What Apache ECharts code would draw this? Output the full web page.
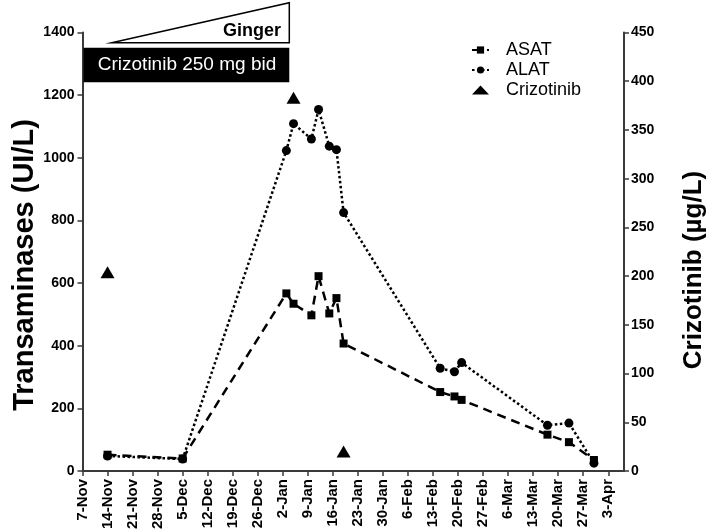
<!DOCTYPE html>
<html>
<head>
<meta charset="utf-8">
<script src="https://cdn.jsdelivr.net/npm/echarts@6/dist/echarts.min.js"></script>
<style>
html,body{margin:0;padding:0;background:#fff;}
#chart{width:709px;height:532px;}
</style>
</head>
<body>
<div id="chart"></div>
<script>
// ---- data ----
var startDate = '2012-11-07';
var tickLabels = ['7-Nov','14-Nov','21-Nov','28-Nov','5-Dec','12-Dec','19-Dec','26-Dec','2-Jan','9-Jan','16-Jan','23-Jan','30-Jan','6-Feb','13-Feb','20-Feb','27-Feb','6-Mar','13-Mar','20-Mar','27-Mar','3-Apr'];
var labDates = ['2012-11-14','2012-12-05','2013-01-03','2013-01-05','2013-01-10','2013-01-12','2013-01-15','2013-01-17','2013-01-19','2013-02-15','2013-02-19','2013-02-21','2013-03-17','2013-03-23','2013-03-30'];
var asatValues = [52, 40, 567, 534, 497, 622, 503, 552, 407, 252, 238, 227, 116, 92, 35];
var alatValues = [48, 38, 1023, 1109, 1060, 1154, 1037, 1026, 825, 328, 317, 346, 146, 153, 25];
var crizoDates = ['2012-11-14','2013-01-05','2013-01-19'];
var crizoValues = [204, 383, 20];

function dayOffset(s) {
  var p = s.split('-'), q = startDate.split('-');
  return (Date.UTC(+p[0], +p[1]-1, +p[2]) - Date.UTC(+q[0], +q[1]-1, +q[2])) / 86400000;
}
function pairs(ds, vs) { return ds.map(function (d, i) { return [dayOffset(d), vs[i]]; }); }

var FONT = "'Liberation Sans', Arial, sans-serif";
var axisColor = '#3a3a3a';
var tickVals = tickLabels.map(function (_, i) { return i * 7; });

var chart = echarts.init(document.getElementById('chart'), null, {renderer: 'canvas'});
chart.setOption({
  animation: false,
  backgroundColor: '#fff',
  textStyle: {fontFamily: FONT},
  grid: {left: 82.5, right: 85, top: 32.5, bottom: 58.7, containLabel: false},
  legend: {
    orient: 'vertical',
    left: 466, top: 36,
    itemWidth: 17, itemHeight: 9, itemGap: 2,
    textStyle: {fontFamily: FONT, fontSize: 18, color: '#000', padding: [0, 0, 0, 12], lineHeight: 18},
    data: ['ASAT', 'ALAT', 'Crizotinib']
  },
  xAxis: {
    type: 'value', min: 0, max: 151.4, interval: 7,
    splitLine: {show: false},
    axisLine: {lineStyle: {color: axisColor, width: 2}},
    axisTick: {show: true, length: 5, lineStyle: {color: axisColor, width: 1.5}, customValues: tickVals},
    axisLabel: {
      rotate: 90, margin: 8, fontSize: 15, fontWeight: 'bold', color: '#000', fontFamily: FONT,
      customValues: tickVals,
      formatter: function (v) { var i = Math.round(v / 7); return (Math.abs(v - i * 7) < 1e-6 && tickLabels[i]) ? tickLabels[i] : ''; }
    }
  },
  yAxis: [{
    type: 'value', min: 0, max: 1400, interval: 200, position: 'left',
    splitLine: {show: false},
    axisLine: {show: true, lineStyle: {color: axisColor, width: 2}},
    axisTick: {show: true, length: 5, lineStyle: {color: axisColor, width: 1.5}},
    axisLabel: {margin: 8, fontSize: 14, fontWeight: 'bold', color: '#000', fontFamily: FONT,
      formatter: function (v) { return String(v); }}
  }, {
    type: 'value', min: 0, max: 450, interval: 50, position: 'right',
    splitLine: {show: false},
    axisLine: {show: true, lineStyle: {color: axisColor, width: 2}},
    axisTick: {show: true, length: 5, lineStyle: {color: axisColor, width: 1.5}},
    axisLabel: {margin: 7, fontSize: 14, fontWeight: 'bold', color: '#000', fontFamily: FONT,
      formatter: function (v) { return String(v); }}
  }],
  graphic: [
    {type: 'text', x: 10, y: 265, rotation: Math.PI / 2, z: 10,
      style: {text: 'Transaminases (UI/L)', font: "bold 29px " + FONT, fill: '#000', align: 'center', verticalAlign: 'top'}},
    {type: 'text', x: 681, y: 270, rotation: Math.PI / 2, z: 10,
      style: {text: 'Crizotinib (µg/L)', font: "bold 26px " + FONT, fill: '#000', align: 'center', verticalAlign: 'top'}},
    {type: 'rect', shape: {x: 83.5, y: 47.7, width: 205.8, height: 34.6}, style: {fill: '#000'}, z: 10},
    {type: 'text', x: 187, y: 65, z: 11,
      style: {text: 'Crizotinib 250 mg bid', font: "19px " + FONT, fill: '#fff', align: 'center', verticalAlign: 'middle'}},
    {type: 'polygon', shape: {points: [[111.7, 42.7], [289.3, 2.7], [289.3, 42.7]]}, style: {fill: '#fff', stroke: '#000', lineWidth: 1.5}, z: 10},
    {type: 'text', x: 281, y: 31, z: 11,
      style: {text: 'Ginger', font: "bold 18px " + FONT, fill: '#000', align: 'right', verticalAlign: 'middle'}}
  ],
  series: [{
    name: 'ASAT', type: 'line', yAxisIndex: 0,
    data: pairs(labDates, asatValues),
    symbol: 'rect', symbolSize: 8,
    itemStyle: {color: '#000', opacity: 1},
    lineStyle: {color: '#000', width: 2.5, type: [9, 6]},
    z: 3
  }, {
    name: 'ALAT', type: 'line', yAxisIndex: 0,
    data: pairs(labDates, alatValues),
    symbol: 'circle', symbolSize: 9,
    itemStyle: {color: '#000', opacity: 1},
    lineStyle: {color: '#000', width: 2.5, type: [2.5, 2.5]},
    z: 2
  }, {
    name: 'Crizotinib', type: 'scatter', yAxisIndex: 1,
    data: pairs(crizoDates, crizoValues),
    symbol: 'triangle', symbolSize: [14, 12],
    itemStyle: {color: '#000', opacity: 1},
    z: 4
  }]
});
</script>
</body>
</html>
